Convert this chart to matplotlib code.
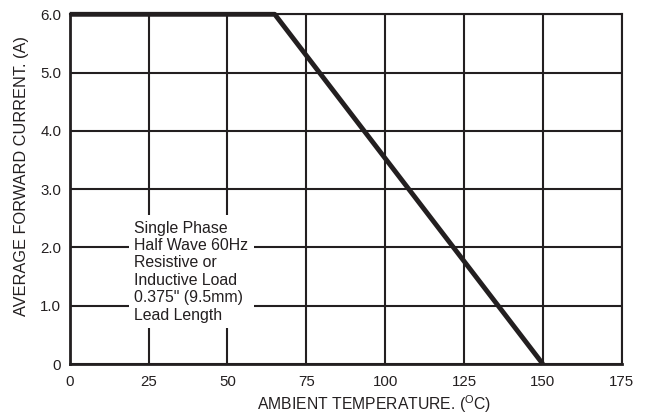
import matplotlib
matplotlib.use("Agg")
import matplotlib.pyplot as plt

plt.rcParams['font.family'] = ['Liberation Sans', 'DejaVu Sans']
plt.rcParams['mathtext.fontset'] = 'custom'
plt.rcParams['mathtext.rm'] = 'Liberation Sans'

# Data
temp = [0, 65, 150]
current = [6.0, 6.0, 0.0]
xticks = [0, 25, 50, 75, 100, 125, 150, 175]
yticks = [0, 1, 2, 3, 4, 5, 6]
ytick_labels = ['0', '1.0', '2.0', '3.0', '4.0', '5.0', '6.0']
note = "Single Phase\nHalf Wave 60Hz\nResistive or\nInductive Load\n0.375\" (9.5mm)\nLead Length"

ink = '#231f20'
fig = plt.figure(figsize=(6.49, 4.17), dpi=100)
ax = fig.add_axes([0.1074, 0.127, 0.958 - 0.1074, 0.9657 - 0.127])
ax.set_xlim(0, 175)
ax.set_ylim(0, 6)
ax.set_xticks(xticks)
ax.set_xticklabels([str(t) for t in xticks])
ax.set_yticks(yticks)
ax.set_yticklabels(ytick_labels)
ax.tick_params(length=0, labelsize=10.8, colors=ink)
ax.tick_params(axis='y', pad=6)
ax.tick_params(axis='x', pad=8)
ax.grid(True, color=ink, linewidth=1.5)
for s in ax.spines.values():
    s.set_color(ink)
    s.set_linewidth(1.5)
ax.spines['left'].set_linewidth(2)
ax.spines['bottom'].set_linewidth(2)

ax.plot(temp, current, color=ink, linewidth=3.5, solid_capstyle='butt', clip_on=False, zorder=5)

ax.text(20.4, 2.46, note, fontsize=11.4, color=ink, va='top', ha='left', linespacing=1.2,
        bbox=dict(facecolor='white', edgecolor='none', pad=4), zorder=4)

ax.set_xlabel(r'AMBIENT TEMPERATURE. ($^{\mathregular{O}}$C)', fontsize=11.3, color=ink)
ax.set_ylabel('AVERAGE FORWARD CURRENT. (A)', fontsize=11.8, color=ink)
ax.xaxis.set_label_coords(0.552, -0.083)
ax.yaxis.set_label_coords(-0.074, 0.5376)

fig.savefig('out.png', dpi=100)
